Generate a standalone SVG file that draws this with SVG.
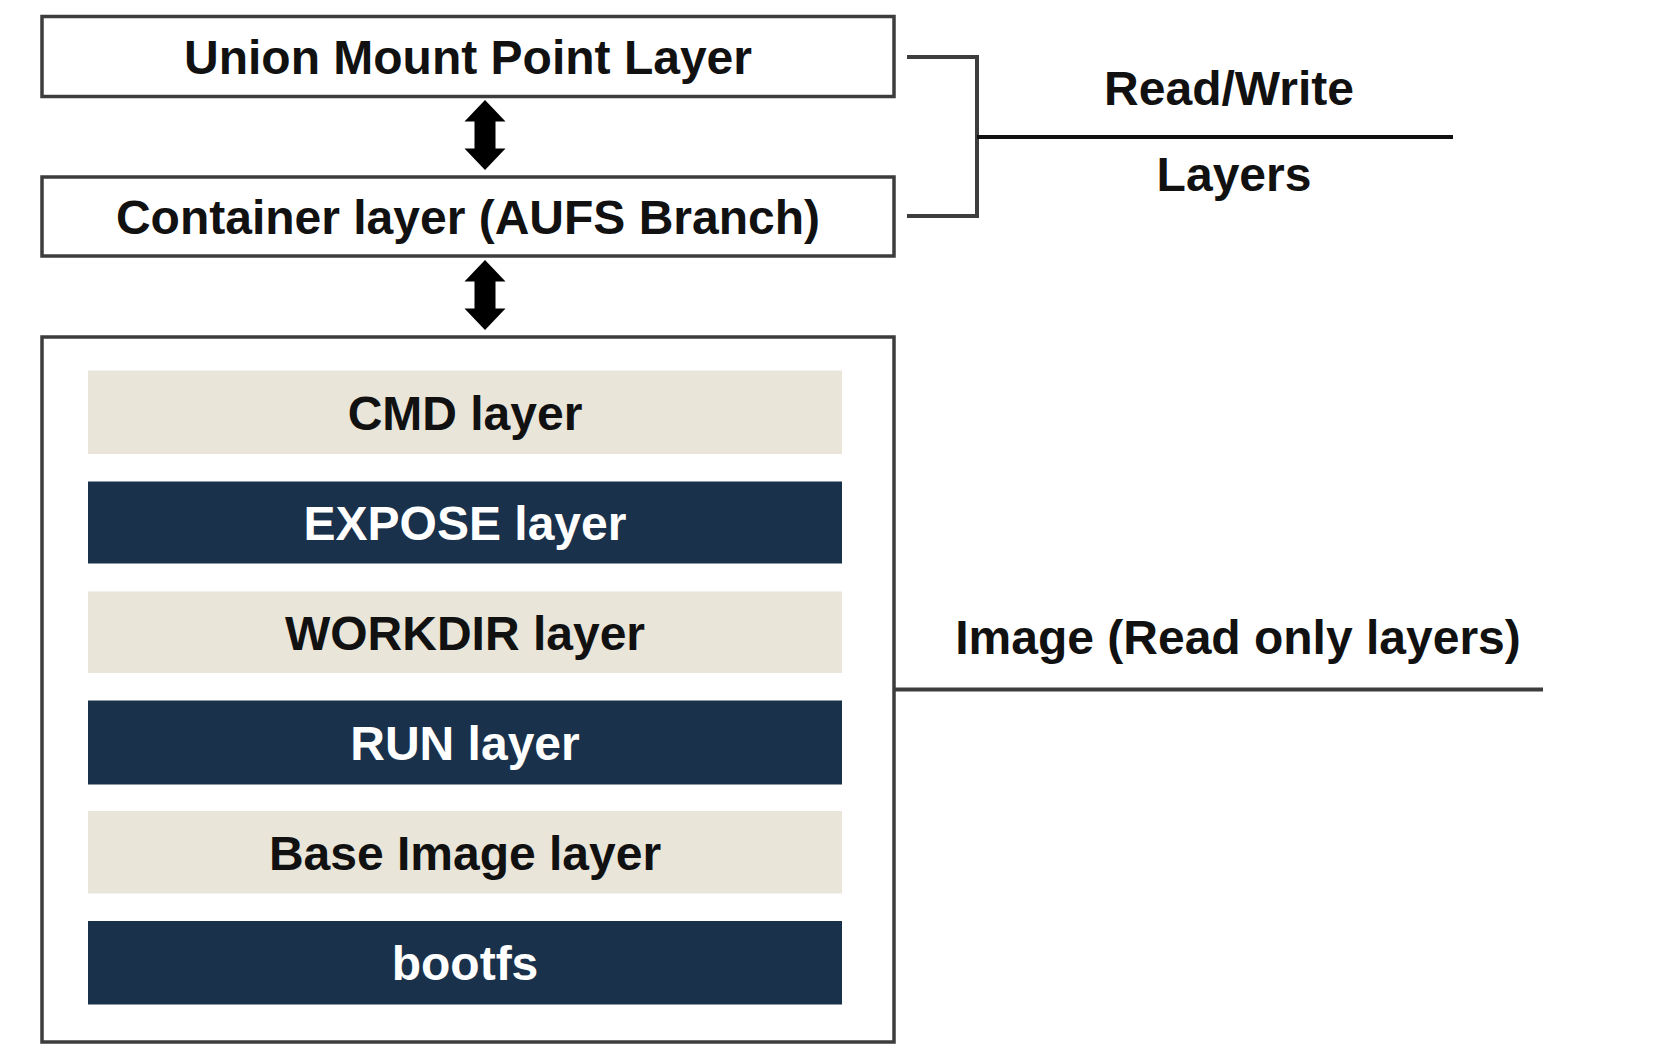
<svg xmlns="http://www.w3.org/2000/svg" width="1654" height="1055" viewBox="0 0 1654 1055">
<style>
.box{fill:#fff;stroke:#3d3d3d;stroke-width:3.5}
.lt{fill:#E9E5D9}
.dk{fill:#1A314B}
.t{font-family:"Liberation Sans",Arial,sans-serif;font-weight:bold;font-size:48px;text-anchor:middle;fill:#111}
.w{fill:#fff}
.br{fill:none;stroke:#3d3d3d;stroke-width:4}
.blk{fill:none;stroke:#111;stroke-width:4}
.arr{fill:#000}
</style>
<defs>
<path id="dbl" d="M0,0 L20.5,21.5 L10.5,21.5 L10.5,48.5 L20.5,48.5 L0,70 L-20.5,48.5 L-10.5,48.5 L-10.5,21.5 L-20.5,21.5 Z"/>
</defs>
<rect width="1654" height="1055" fill="#fff"/>
<g id="union-mount">
<rect class="box" x="42" y="16.5" width="852" height="80"/>
<text class="t" x="468" y="74">Union Mount Point Layer</text>
</g>
<g id="container-layer">
<rect class="box" x="42" y="177" width="852" height="79"/>
<text class="t" x="468" y="234">Container layer (AUFS Branch)</text>
</g>
<g id="image">
<rect class="box" x="42" y="337" width="852" height="705"/>
</g>
<g id="cmd">
<rect class="lt" x="88" y="370.5" width="754" height="83.5"/>
<text class="t" x="465" y="430">CMD layer</text>
</g>
<g id="expose">
<rect class="dk" x="88" y="481.5" width="754" height="82"/>
<text class="t w" x="465" y="540">EXPOSE layer</text>
</g>
<g id="workdir">
<rect class="lt" x="88" y="591.5" width="754" height="81.5"/>
<text class="t" x="465" y="650">WORKDIR layer</text>
</g>
<g id="run">
<rect class="dk" x="88" y="700.5" width="754" height="84"/>
<text class="t w" x="465" y="760">RUN layer</text>
</g>
<g id="base-image">
<rect class="lt" x="88" y="811" width="754" height="82.5"/>
<text class="t" x="465" y="870">Base Image layer</text>
</g>
<g id="bootfs">
<rect class="dk" x="88" y="921" width="754" height="83.5"/>
<text class="t w" x="465" y="980">bootfs</text>
</g>
<g id="rw-label">
<text class="t" x="1229" y="105">Read/Write</text>
<text class="t" x="1234" y="191">Layers</text>
</g>
<g id="ro-label">
<text class="t" x="1238" y="654">Image (Read only layers)</text>
</g>
<g id="connectors">
<use href="#dbl" class="arr" x="485" y="100"/>
<use href="#dbl" class="arr" x="485" y="260"/>
<path class="br" d="M907,57 H977 V216 H907"/>
<path class="blk" d="M977,137 H1453"/>
<path class="br" d="M895,689.5 H1543"/>
</g>
</svg>
